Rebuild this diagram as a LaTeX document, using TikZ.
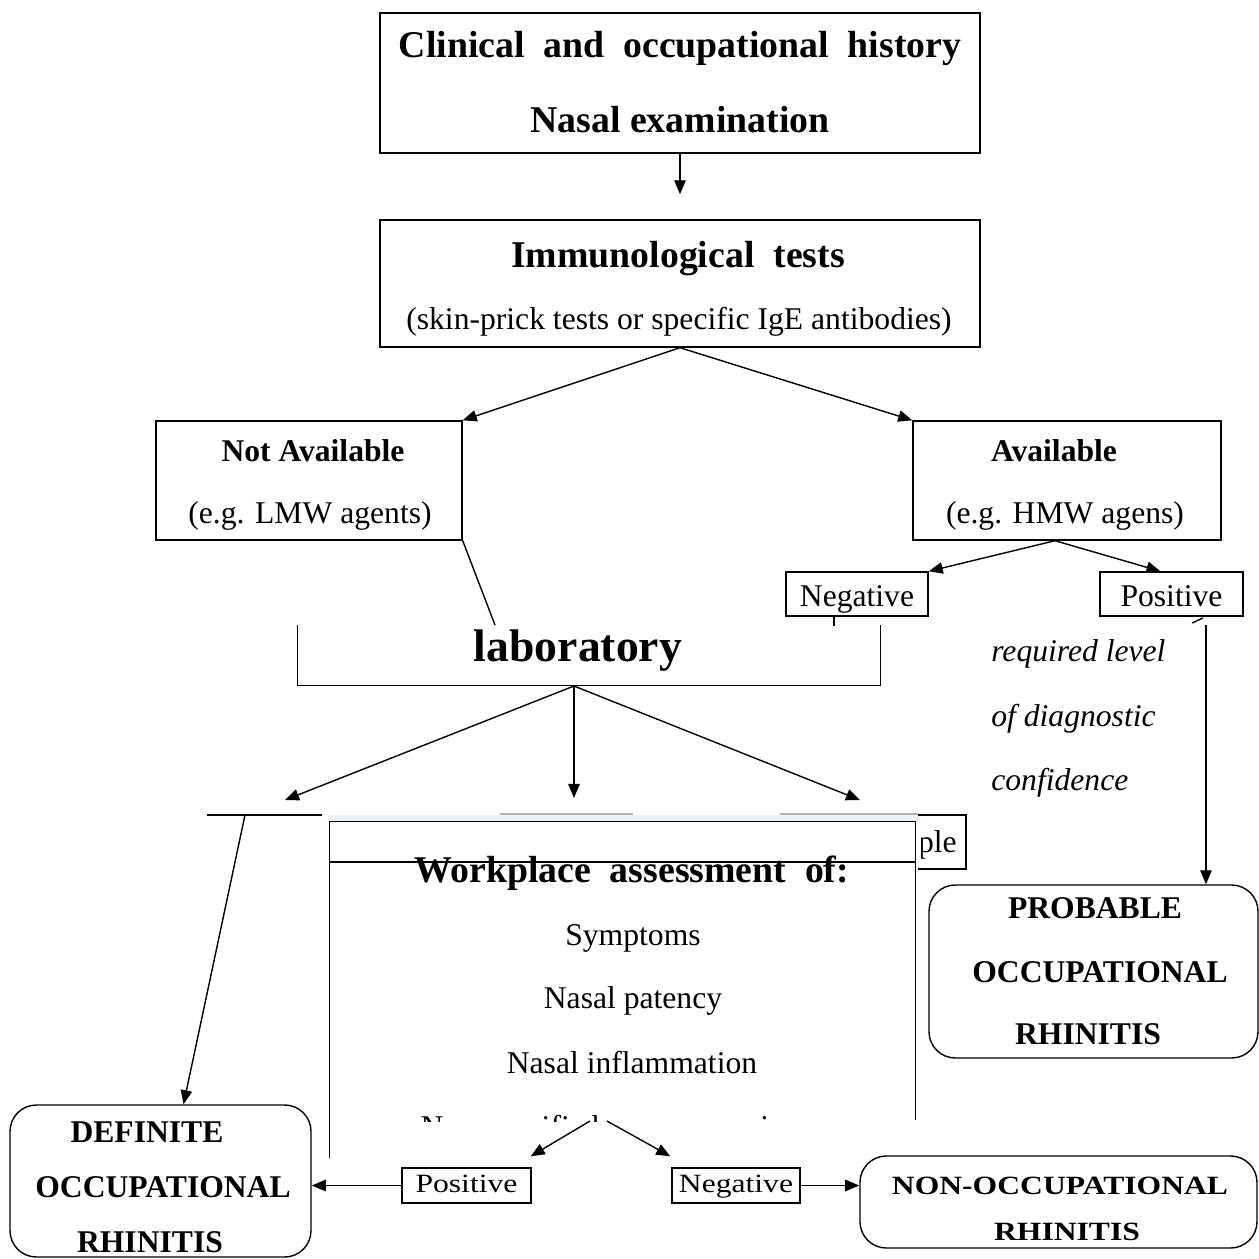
\documentclass[tikz,border=0pt]{standalone}
\usepackage{fontspec}
\setmainfont{Liberation Serif}
\newfontfamily\stretchserif[FakeStretch=1.2]{Liberation Serif}
\usetikzlibrary{arrows.meta,calc}
\newcommand\widesp{\spaceskip=0.5em\relax}
\definecolor{stripc}{RGB}{234,240,247}
\tikzset{
  wdx/.style={minimum width=#1*0.02cm},
  htx/.style={minimum height=#1*0.02cm},
  box/.style={draw, line width=0.8pt, inner sep=0pt, rectangle},
  rbox/.style={box, rounded corners=15pt},
  hid/.style={inner sep=0pt, rectangle},
  arr/.style={line width=0.8pt, -{Triangle[length=8pt,width=6.5pt]}},
  ln/.style={line width=0.8pt},
  bigt/.style={font=\bfseries\fontsize{21.5}{24}\selectfont\widesp, inner sep=0pt},
  bt/.style={font=\bfseries\fontsize{18}{20}\selectfont, inner sep=0pt},
  bts/.style={font=\stretchserif\bfseries\fontsize{15}{18}\selectfont, inner sep=0pt},
  rt/.style={font=\fontsize{18}{20}\selectfont, inner sep=0pt},
  itx/.style={font=\itshape\fontsize{18}{20}\selectfont, inner sep=0pt, anchor=west},
  tagA/.style={box, rt, text height=14.5pt, text depth=0pt},
  tagB/.style={box, font=\stretchserif\fontsize{15}{18}\selectfont, text height=11pt, text depth=2.5pt},
}
\begin{document}
\begin{tikzpicture}[x=0.02cm,y=-0.02cm]
\useasboundingbox[fill=white] (0,0) rectangle (1259,1259);

% top boxes
\node[box, wdx=600, htx=140] (b1) at (680,83) {};
\node[bigt] (b1t1) at (680,48) {Clinical and occupational history};
\node[bt, font=\bfseries\fontsize{21.5}{24}\selectfont] (b1t2) at (680,120) {Nasal examination};
\node[box, wdx=600, htx=127] (b2) at (680,283.5) {};
\node[bigt] (b2t1) at (678,259) {Immunological tests};
\node[rt] (b2t2) at (679,322) {(skin-prick tests or specific IgE antibodies)};
\draw[arr, shorten >=0.5cm] (b1.south) -- (b2.north);

% availability
\node[box, wdx=306, htx=119] (na) at (309,480.5) {};
\node[bt] (nat1) at (313,451) {Not Available};
\node[rt] (nat2) at (310,516) {(e.g. LMW agents)};
\node[box, wdx=308, htx=119] (av) at (1067,480.5) {};
\node[bt] (avt1) at (1054,451) {Available};
\node[rt] (avt2) at (1065,516) {(e.g. HMW agens)};
\draw[arr] (b2.south) -- (na.north east);
\draw[arr] (b2.south) -- (av.north west);

\node[tagA, wdx=142, htx=44] (neg1) at (857,594) {Negative};
\node[tagA, wdx=143, htx=44] (pos1) at (1171.5,594) {Positive};
\draw[arr] ($(av.south)+(-12,0)$) -- (neg1.north east);
\draw[arr] ($(av.south)+(-12,0)$) -- ($(pos1.north)+(-11,0)$);

% laboratory
\node[hid, wdx=582, htx=60] (labbox) at (589,655) {};
\draw[ln] (labbox.north west) -- (labbox.south west) -- (labbox.south east) -- (labbox.north east);
\node[font=\bfseries\fontsize{26}{30}\selectfont, inner sep=0pt] (labt) at (578,651) {laboratory};
\coordinate (labin) at (495,625);
\draw[ln] (na.south east) -- (labin);
\draw[ln] ($(neg1.south)+(-23,0)$) -- ++(0,9);
\coordinate (labout) at (574,686);
\coordinate (t1) at (285,800);
\coordinate (t2) at (574,798);
\coordinate (t3) at (860,800);
\draw[arr] (labout) -- (t1);
\draw[arr] (labout) -- (t2);
\draw[arr] (labout) -- (t3);

% partly hidden row
\fill[stripc] (328,815) rectangle (920,821);
\draw[ln] (207,815) -- (322,815);
\draw[ln, gray!60] (500,814) -- (633,814);
\draw[ln, gray!60] (780,814) -- (918,814);
\draw[ln] (918,815) -- (966,815) -- (966,869) -- (918,869);
\begin{scope}
  \clip (921,818) rectangle (966,869);
  \node[rt, anchor=east] (plet) at (957,845) {ple};
\end{scope}

% workplace assessment
\node[hid, wdx=585, htx=336] (wp) at (622.5,990) {};
\draw[ln] (wp.south west) -- (wp.north west) -- (wp.north east) -- ($(wp.north east)+(0,298)$);
\draw[line width=1.1pt] ($(wp.north west)+(0,40)$) -- ($(wp.north east)+(0,40)$);
\node[bigt] (wpt1) at (632,873) {Workplace assessment of:};
\node[rt] (wpt2) at (633,938) {Symptoms};
\node[rt] (wpt3) at (633,1001) {Nasal patency};
\node[rt] (wpt4) at (632,1063) {Nasal inflammation};
\begin{scope}
  \clip (332,1100) rectangle (913,1121);
  \node[rt] (wpt5) at (637,1130) {Non-specific hyperresponsiveness};
\end{scope}

% bottom boxes
\node[tagB, wdx=129, htx=35] (pos2) at (466.5,1185.5) {Positive};
\node[tagB, wdx=128, htx=35] (neg2) at (736,1185.5) {Negative};
\coordinate (wpo1) at (590,1121);
\coordinate (wpo2) at (607,1121);
\draw[arr] (wpo1) -- ($(pos2.north east)+(-1,-11)$);
\draw[arr] (wpo2) -- ($(neg2.north west)+(-1,-11)$);

\node[rbox, wdx=301, htx=152] (def) at (160.5,1181) {};
\node[bt] (deft1) at (147,1132) {DEFINITE};
\node[bt] (deft2) at (163,1187) {OCCUPATIONAL};
\node[bt] (deft3) at (150,1242) {RHINITIS};

\node[rbox, wdx=397, htx=92] (non) at (1058.5,1202) {};
\node[bts] (nont1) at (1060,1186) {NON-OCCUPATIONAL};
\node[bts] (nont2) at (1067,1232) {RHINITIS};

\node[rbox, wdx=329, htx=173] (prob) at (1093.5,971.5) {};
\node[bt] (probt1) at (1095,908) {PROBABLE};
\node[bt] (probt2) at (1100,972) {OCCUPATIONAL};
\node[bt] (probt3) at (1088,1034) {RHINITIS};

\draw[arr] (pos2.west) -- (pos2.west -| def.east);
\draw[arr] (neg2.east) -- (neg2.east -| non.west);
\coordinate (dstart) at (245,815);
\draw[arr] (dstart) -- ($(def.north)+(23,0)$);

\coordinate (pp) at (1206,625);
\draw[arr] (pp) -- (pp |- prob.north);
\draw[ln] (1192,623) -- (1203,618);

\node[itx] (c1) at (991,654) {required level};
\node[itx] (c2) at (991,719) {of diagnostic};
\node[itx] (c3) at (991,783) {confidence};
\end{tikzpicture}
\end{document}
